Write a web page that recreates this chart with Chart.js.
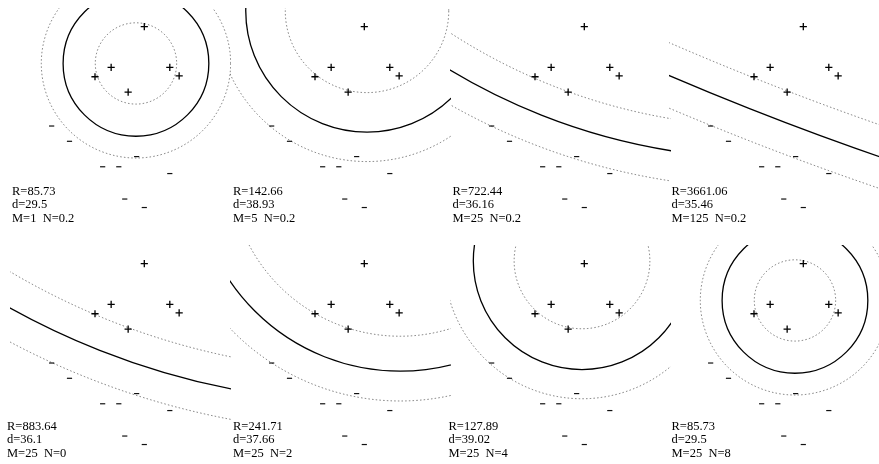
<!DOCTYPE html>
<html>
<head>
<meta charset="utf-8">
<script src="https://cdn.jsdelivr.net/npm/chart.js@4.4.1/dist/chart.umd.min.js"></script>
<style>
  html, body { margin: 0; padding: 0; background: #fff; }
  body { position: relative; width: 879px; height: 464px; overflow: hidden; }
  canvas { position: absolute; }
</style>
</head>
<body>
<script>
// Training points in plane units (y measured downward from the top of the plot)
const plusX  = [158, 119, 188, 100, 199, 139];
const plusY  = [22, 70, 70, 81, 80, 99];
const minusX = [49, 70, 109, 128, 188, 135, 158, 149];
const minusY = [139, 157, 187, 187, 195, 225, 235, 175];

// One run per panel: parameters M, N and the resulting sphere (radius R, margin d, centre)
const runM = [1, 5, 25, 125, 25, 25, 25, 25];
const runN = [0.2, 0.2, 0.2, 0.2, 0, 2, 4, 8];
const runR = [85.73, 142.66, 722.44, 3661.06, 883.64, 241.71, 127.89, 85.73];
const runD = [29.5, 38.93, 36.16, 35.46, 36.1, 37.66, 39.02, 29.5];
const centerX = [148.2, 161.2, 373.4, 1442.4, 430.8, 200.1, 155.3, 148.2];
const centerY = [65.3, 3.5, -545.5, -3285.4, -697.6, -93.1, 18.8, 65.3];

// Plot extent in plane units
const X_MAX = 260, Y_MAX = 265;

// Panel layout (pixels)
const PANEL_W = 219.75, PANEL_H = 237;
const CANVAS_W = 232, CANVAS_H = 233;
const labelX = [12, 13, 12.5, 12.5, 7, 13, 8.5, 12.5];
const labelY = [195, 195, 195, 195, 193, 193, 193, 193];

function spherePlugin(i) {
  return {
    id: 'sphere' + i,
    beforeDatasetsDraw(chart) {
      const { ctx, chartArea: a, scales: { x, y } } = chart;
      const cx = x.getPixelForValue(centerX[i]);
      const cy = y.getPixelForValue(centerY[i]);
      const ring = (r) => {
        const rx = Math.abs(x.getPixelForValue(centerX[i] + r) - cx);
        const ry = Math.abs(y.getPixelForValue(centerY[i] + r) - cy);
        ctx.beginPath();
        ctx.ellipse(cx, cy, rx, ry, 0, 0, Math.PI * 2);
        ctx.stroke();
      };
      const R = runR[i], d = runD[i];
      ctx.save();
      ctx.beginPath();
      ctx.rect(a.left, a.top, a.width, a.height);
      ctx.clip();
      // margin spheres
      ctx.strokeStyle = 'rgba(0,0,0,0.5)';
      ctx.lineWidth = 1;
      ctx.setLineDash([1.5, 2.2]);
      ring(Math.sqrt(R * R - 2 * R * d));
      ring(Math.sqrt(R * R + 2 * R * d));
      // decision sphere
      ctx.setLineDash([]);
      ctx.strokeStyle = '#000';
      ctx.lineWidth = 1.3;
      ring(R);
      ctx.restore();
    },
    afterDraw(chart) {
      const ctx = chart.ctx;
      ctx.save();
      ctx.fillStyle = '#000';
      ctx.font = '12.5px "Liberation Serif", "DejaVu Serif", serif';
      ctx.textBaseline = 'alphabetic';
      const lx = labelX[i], ly = labelY[i];
      ctx.fillText('R=' + runR[i], lx, ly);
      ctx.fillText('d=' + runD[i], lx, ly + 13.3);
      ctx.fillText('M=' + runM[i] + '  N=' + runN[i], lx, ly + 26.6);
      ctx.restore();
    }
  };
}

const plusPts = plusX.map((v, k) => ({ x: v, y: plusY[k] }));
const minusPts = minusX.map((v, k) => ({ x: v, y: minusY[k] }));

for (let i = 0; i < runR.length; i++) {
  const col = i % 4, row = Math.floor(i / 4);
  const cv = document.createElement('canvas');
  cv.width = CANVAS_W;
  cv.height = CANVAS_H;
  cv.style.left = Math.round(col * PANEL_W) + 'px';
  cv.style.top = (row * PANEL_H) + 'px';
  cv.style.width = CANVAS_W + 'px';
  cv.style.height = CANVAS_H + 'px';
  document.body.appendChild(cv);

  new Chart(cv, {
    type: 'scatter',
    data: {
      datasets: [
        {
          label: '+',
          data: plusPts,
          pointStyle: 'cross',
          pointRadius: 3.6,
          borderColor: '#000',
          backgroundColor: '#000',
          borderWidth: 1.3
        },
        {
          label: '-',
          data: minusPts,
          pointStyle: 'line',
          pointRadius: 2.6,
          borderColor: '#111',
          backgroundColor: '#111',
          borderWidth: 1.2
        }
      ]
    },
    options: {
      responsive: false,
      animation: false,
      events: [],
      devicePixelRatio: 1,
      layout: { autoPadding: false, padding: { left: 10, top: 8, right: 1, bottom: 0 } },
      scales: {
        x: { type: 'linear', min: 0, max: X_MAX, display: false },
        y: { type: 'linear', min: 0, max: Y_MAX, reverse: true, display: false }
      },
      plugins: { legend: { display: false }, tooltip: { enabled: false } }
    },
    plugins: [spherePlugin(i)]
  });
}
</script>
</body>
</html>
